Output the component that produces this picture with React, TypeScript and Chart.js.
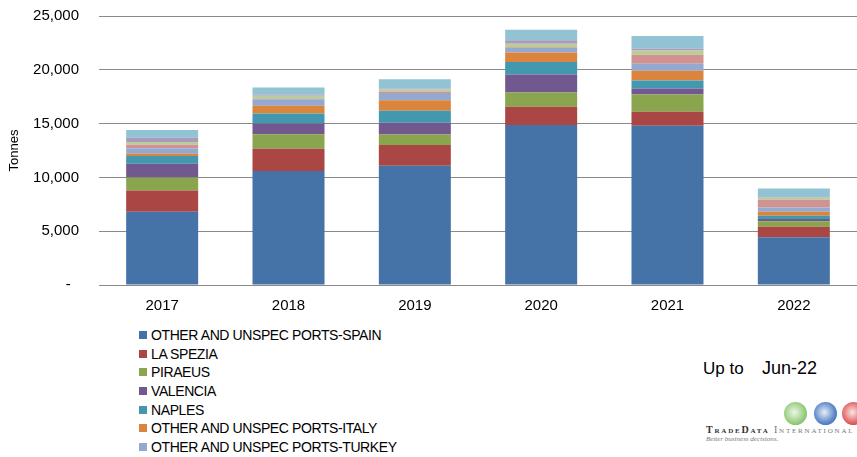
import React, { useEffect, useRef } from "react";
import { Chart, registerables } from "chart.js";

Chart.register(...registerables);

const categories = ["2017", "2018", "2019", "2020", "2021", "2022"];
const yTicks = [0, 5000, 10000, 15000, 20000, 25000];

const spain = [6800, 10590, 11080, 14860, 14800, 4430];
const laSpezia = [1980, 2070, 1920, 1700, 1300, 990];
const piraeus = [1210, 1360, 990, 1330, 1610, 495];
const valencia = [1270, 990, 1080, 1670, 560, 215];
const naples = [740, 930, 1115, 1175, 745, 310];
const otherItaly = [190, 710, 990, 865, 900, 370];
const otherTurkey = [530, 620, 680, 435, 650, 400];
const series8 = [310, 60, 125, 50, 835, 715];
const series9 = [250, 250, 185, 340, 400, 185];
const series10 = [400, 90, 95, 310, 185, 50];
const series11 = [715, 680, 865, 990, 1145, 820];

const seriesNames = [
  "OTHER AND UNSPEC PORTS-SPAIN",
  "LA SPEZIA",
  "PIRAEUS",
  "VALENCIA",
  "NAPLES",
  "OTHER AND UNSPEC PORTS-ITALY",
  "OTHER AND UNSPEC PORTS-TURKEY",
  "SERIES 8",
  "SERIES 9",
  "SERIES 10",
  "SERIES 11",
];
const seriesValues = [
  spain, laSpezia, piraeus, valencia, naples, otherItaly, otherTurkey,
  series8, series9, series10, series11,
];
const seriesColors = [
  "#4572A7", "#AA4643", "#89A54E", "#71588F", "#4198AF", "#DB843D",
  "#93A9CF", "#D19392", "#B9CD96", "#A99BBD", "#92C3D4",
];
const legendCount = 7;

const FONT = "'Liberation Sans', Arial, sans-serif";

export default function App() {
  const ref = useRef<HTMLCanvasElement | null>(null);

  useEffect(() => {
    if (!ref.current) return;
    const chart = new Chart(ref.current, {
      type: "bar",
      data: {
        labels: categories,
        datasets: seriesNames.map((name, i) => ({
          label: name,
          data: seriesValues[i],
          backgroundColor: seriesColors[i],
          borderWidth: 0,
          barPercentage: 0.57,
          categoryPercentage: 1,
        })),
      },
      options: {
        responsive: false,
        animation: false,
        layout: { padding: { top: 16, right: 0, left: 0, bottom: 0 } },
        plugins: { legend: { display: false }, tooltip: { enabled: false } },
        scales: {
          x: {
            stacked: true,
            grid: { display: false, drawTicks: false },
            border: { display: false },
            ticks: { color: "#000", font: { family: FONT, size: 15 }, padding: 12 },
            afterFit: (s: any) => { s.height = 35; s.paddingLeft = 0; s.paddingRight = 0; },
          },
          y: {
            stacked: true,
            min: 0,
            max: 25000,
            afterBuildTicks: (s: any) => { s.ticks = yTicks.map((v) => ({ value: v })); },
            grid: { color: "#8a8a8a", lineWidth: 1, drawTicks: false },
            border: { display: false },
            ticks: {
              color: "#000",
              font: { family: FONT, size: 15 },
              padding: 20,
              callback: (v: any) => (v === 0 ? "-  " : Number(v).toLocaleString("en-US")),
            },
            title: {
              display: true,
              text: "Tonnes",
              color: "#000",
              font: { family: FONT, size: 13 },
              padding: { top: 7, bottom: 0 },
            },
            afterFit: (s: any) => { s.width = 99; s.paddingTop = 0; s.paddingBottom = 0; },
          },
        },
      },
    });
    return () => chart.destroy();
  }, []);

  const globe = (left: number, light: string, mid: string, dark: string) => (
    <div style={{ position: "absolute", left, top: 402, width: 23, height: 23, borderRadius: "50%", background: `radial-gradient(circle at 45% 45%, ${light}, ${mid} 60%, ${dark})` }} />
  );

  return (
    <div style={{ position: "absolute", left: 0, top: 0, width: 857, height: 457, overflow: "hidden", background: "#fff" }}>
      <canvas ref={ref} width={857} height={320} style={{ position: "absolute", left: 0, top: 0 }} />
      <div style={{ position: "absolute", left: 139, top: 326, fontFamily: FONT, fontSize: 14, letterSpacing: -0.4, color: "#000" }}>
        {seriesNames.slice(0, legendCount).map((n, i) => (
          <div key={n} style={{ height: 18.6, display: "flex", alignItems: "center", whiteSpace: "nowrap" }}>
            <span style={{ display: "inline-block", width: 8, height: 8, background: seriesColors[i], marginRight: 4 }} />
            <span>{n}</span>
          </div>
        ))}
      </div>
      <div style={{ position: "absolute", left: 703, top: 359, fontFamily: FONT, fontSize: 17, color: "#000", whiteSpace: "nowrap" }}>
        Up to
      </div>
      <div style={{ position: "absolute", left: 762, top: 358, fontFamily: FONT, fontSize: 18, color: "#000", whiteSpace: "nowrap" }}>
        Jun-22
      </div>
      {globe(784, "#eef6e8", "#96cc7c", "#6aa858")}
      {globe(814, "#e6eef8", "#5a86c8", "#3460a8")}
      {globe(842, "#f8e6e6", "#e26060", "#c03a3a")}
      <div style={{ position: "absolute", left: 706, top: 424, fontFamily: "'Liberation Serif', serif", fontSize: 10, whiteSpace: "nowrap", fontVariant: "small-caps", letterSpacing: 1.8 }}>
        <span style={{ color: "#333", fontWeight: "bold" }}>TradeData</span>
        <span style={{ color: "#777" }}> International</span>
      </div>
      <div style={{ position: "absolute", left: 706, top: 435, fontFamily: "'Liberation Serif', serif", fontSize: 7, fontStyle: "italic", color: "#777", whiteSpace: "nowrap" }}>
        Better business decisions.
      </div>
    </div>
  );
}
